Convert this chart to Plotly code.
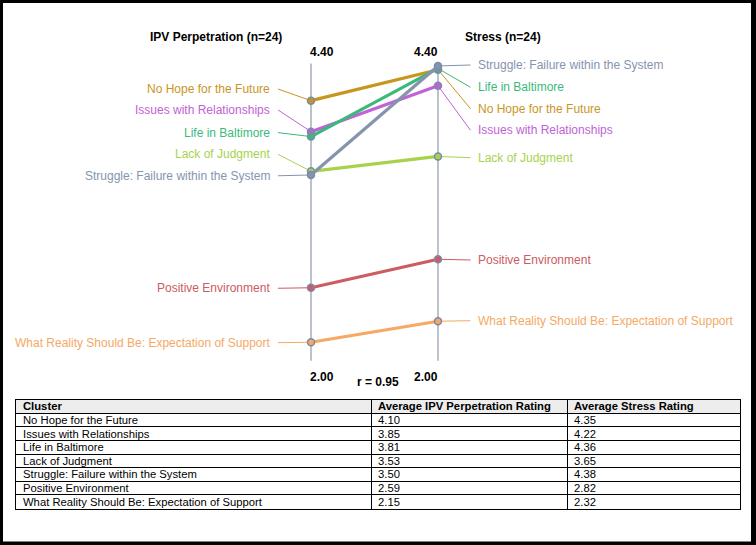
import plotly.graph_objects as go

# ---------------- data ----------------
clusters = [
    "No Hope for the Future",
    "Issues with Relationships",
    "Life in Baltimore",
    "Lack of Judgment",
    "Struggle: Failure within the System",
    "Positive Environment",
    "What Reality Should Be: Expectation of Support",
]
ipv_rating = [4.10, 3.85, 3.81, 3.53, 3.50, 2.59, 2.15]
stress_rating = [4.35, 4.22, 4.36, 3.65, 4.38, 2.82, 2.32]
axis_titles = ["IPV Perpetration (n=24)", "Stress (n=24)"]
axis_min, axis_max = 2.00, 4.40
r_text = "r = 0.95"
table_header = ["Cluster", "Average IPV Perpetration Rating", "Average Stress Rating"]

# ---------------- style / layout ----------------
colors = ["#c8961f", "#c162d6", "#3cb97a", "#a7d34c", "#8594ad", "#cc5b62", "#f5a964"]
# label anchor heights (layout positions, in rating units)
label_left_y = [4.194, 4.025, 3.842, 3.667, 3.494, 2.586, 2.147]
label_right_y = [4.035, 3.861, 4.208, 3.640, 4.388, 2.814, 2.324]
col_widths = [355, 196, 173]

W, H = 756, 545
px_left, px_right = 311, 438          # pixel x of the two axes
py_top, ppu = 63.5, 123.9             # pixel y of 4.40, pixels per unit
ux = px_right - px_left
xr = [-px_left / ux, (W - px_left) / ux]
yr = [axis_max - (H - py_top) / ppu, axis_max + py_top / ppu]


def px2x(p):
    return (p - px_left) / ux


def py2v(p):
    return axis_max - (p - py_top) / ppu


FONT = "Liberation Sans, Arial, Helvetica, sans-serif"
fig = go.Figure()

# axis lines
for xv in (0, 1):
    fig.add_trace(go.Scatter(x=[xv, xv], y=[axis_min, axis_max], mode="lines",
                             line=dict(color="#a4acbc", width=1.5),
                             hoverinfo="skip", showlegend=False))

# connectors
for i, c in enumerate(clusters):
    fig.add_trace(go.Scatter(x=[px2x(278), 0], y=[label_left_y[i], ipv_rating[i]],
                             mode="lines", line=dict(color=colors[i], width=1),
                             hoverinfo="skip", showlegend=False))
    fig.add_trace(go.Scatter(x=[1, px2x(470.5)], y=[stress_rating[i], label_right_y[i]],
                             mode="lines", line=dict(color=colors[i], width=1),
                             hoverinfo="skip", showlegend=False))

# slope lines
for i, c in enumerate(clusters):
    fig.add_trace(go.Scatter(x=[0, 1], y=[ipv_rating[i], stress_rating[i]],
                             mode="lines+markers", name=c,
                             line=dict(color=colors[i], width=3.2),
                             marker=dict(size=7, color=colors[i],
                                         line=dict(color="#7b8aa8", width=1.5)),
                             showlegend=False))

ann = []
for i, c in enumerate(clusters):
    ann.append(dict(x=px2x(272), y=label_left_y[i], text=c, xanchor="right", yanchor="middle",
                    showarrow=False, font=dict(family=FONT, size=12, color=colors[i])))
    ann.append(dict(x=px2x(476), y=label_right_y[i], text=c, xanchor="left", yanchor="middle",
                    showarrow=False, font=dict(family=FONT, size=12, color=colors[i])))

ann.append(dict(x=px2x(216), y=py2v(37), text="<b>%s</b>" % axis_titles[0], showarrow=False,
                font=dict(family=FONT, size=12, color="black")))
ann.append(dict(x=px2x(503), y=py2v(37), text="<b>%s</b>" % axis_titles[1], showarrow=False,
                font=dict(family=FONT, size=12, color="black")))
for xc in (px2x(321.7), px2x(426.3)):
    ann.append(dict(x=xc, y=py2v(51.7), text="<b>%.2f</b>" % axis_max, showarrow=False,
                    font=dict(family=FONT, size=12, color="black")))
    ann.append(dict(x=xc, y=py2v(377), text="<b>%.2f</b>" % axis_min, showarrow=False,
                    font=dict(family=FONT, size=12, color="black")))
ann.append(dict(x=px2x(377.7), y=py2v(381.5), text="<b>%s</b>" % r_text, showarrow=False,
                font=dict(family=FONT, size=12, color="black")))

# ---------------- table (on its own axes: x = column width units, y = row index) ----------------
col_edges = [0]
for w in col_widths:
    col_edges.append(col_edges[-1] + w)
n_rows = len(clusters) + 1
table_cols = [clusters,
              ["%.2f" % v for v in ipv_rating],
              ["%.2f" % v for v in stress_rating]]
TFONT = dict(family=FONT, size=11.25, color="black")
for j, h in enumerate(table_header):
    ann.append(dict(xref="x2", yref="y2", x=col_edges[j] + 5, y=0.5, text="<b>%s</b>" % h,
                    xanchor="left", yanchor="middle", showarrow=False, font=TFONT))
    for r, v in enumerate(table_cols[j]):
        ann.append(dict(xref="x2", yref="y2", x=col_edges[j] + 5, y=r + 1.5, text=v,
                        xanchor="left", yanchor="middle", showarrow=False, font=TFONT))

fig.update_layout(
    width=W, height=H,
    margin=dict(l=0, r=0, t=0, b=0),
    paper_bgcolor="black", plot_bgcolor="rgba(0,0,0,0)",
    xaxis=dict(range=xr, visible=False, fixedrange=True, domain=[0, 1]),
    yaxis=dict(range=yr, visible=False, fixedrange=True, domain=[0, 1]),
    xaxis2=dict(range=[0, col_edges[-1]], domain=[16 / W, 740 / W], anchor="y2",
                tickvals=col_edges, showticklabels=False, ticks="", showgrid=True,
                gridcolor="black", gridwidth=1, zeroline=False,
                showline=True, mirror=True, linecolor="black", linewidth=1, fixedrange=True),
    yaxis2=dict(range=[n_rows, 0], domain=[1 - 508.5 / H, 1 - 399.5 / H], anchor="x2",
                tickvals=list(range(n_rows + 1)), showticklabels=False, ticks="", showgrid=True,
                gridcolor="black", gridwidth=1, zeroline=False,
                showline=True, mirror=True, linecolor="black", linewidth=1, fixedrange=True),
    annotations=ann,
    shapes=[
        dict(type="rect", xref="paper", yref="paper", layer="below",
             x0=3 / W, x1=751 / W, y0=1 - 541.5 / H, y1=1 - 3 / H,
             fillcolor="white", line=dict(width=0)),
        dict(type="rect", xref="x2", yref="y2", layer="below",
             x0=col_edges[0], x1=col_edges[-1], y0=0, y1=1,
             fillcolor="#ededed", line=dict(width=0)),
    ],
    showlegend=False,
)

# invisible trace so the table axes are rendered
fig.add_trace(go.Scatter(x=[col_edges[0]], y=[0], xaxis="x2", yaxis="y2", mode="markers",
                         marker=dict(opacity=0), hoverinfo="skip", showlegend=False))

fig.write_html("out.html", config={"displayModeBar": False},
               post_script="document.body.style.margin='0px';document.body.style.overflow='hidden';")
